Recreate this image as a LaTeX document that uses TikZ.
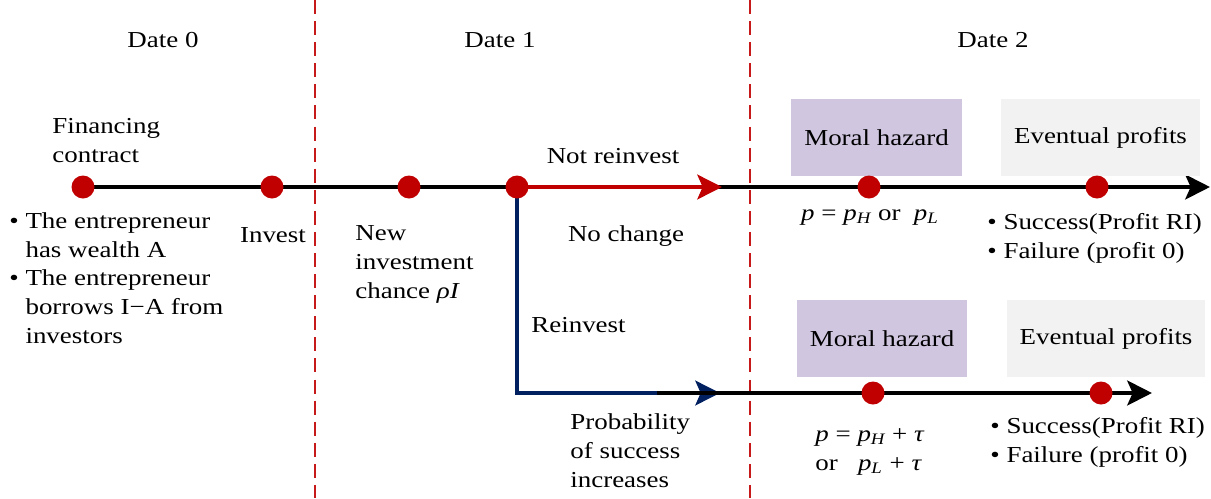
\documentclass[tikz,border=0pt]{standalone}
\usepackage{fontspec}
\setmainfont{Liberation Serif}[FakeStretch=1.18]
\usetikzlibrary{arrows.meta,backgrounds}
\definecolor{dotred}{HTML}{C00000}
\definecolor{navyline}{HTML}{002060}
\definecolor{hazardfill}{HTML}{D0C6DF}
\definecolor{profitfill}{HTML}{F2F2F2}
\newcommand{\vi}[1]{{\itshape #1}}
\tikzset{
	tdot/.style={circle,fill=dotred,inner sep=0pt,minimum size=0.46cm},
	timeline/.style={draw=black,line width=2.8pt},
	keepline/.style={draw=dotred,line width=2.3pt},
	reinvline/.style={draw=navyline,line width=2.3pt},
	datesep/.style={draw=dotred!90!white,line width=1.1pt,dash pattern=on 8pt off 4pt},
	tarrow/.style={-{Stealth[length=14pt,width=14pt,inset=3pt]}},
	hbox/.style={fill=hazardfill,minimum width=3.42cm,minimum height=1.54cm},
	pbox/.style={fill=profitfill,minimum width=3.98cm,minimum height=1.54cm},
	lbl/.style={font=\fontsize{13}{16.5}\selectfont,inner sep=0pt}
}

\begin{document}
\begin{tikzpicture}[x=0.02cm,y=-0.02cm]
	\useasboundingbox (0,0) rectangle (1211,498);
	
	% dates
	\node[lbl,anchor=base] (date0) at (163,47) {Date 0};
	\node[lbl,anchor=base] (date1) at (500,47) {Date 1};
	\node[lbl,anchor=base] (date2) at (993,47) {Date 2};
	
	% boxes above the time points
	\node[hbox,lbl] (hazA) at (876.5,137.5) {Moral hazard};
	\node[pbox,lbl] (profA) at (1100.5,137.5) {Eventual profits};
	\node[hbox,lbl] (hazB) at (882,338.5) {Moral hazard};
	\node[pbox,lbl] (profB) at (1106,338.5) {Eventual profits};
	
	% time points
	\node[tdot] (contract) at (83,187) {};
	\node[tdot] (invest) at (272,187) {};
	\node[tdot] (chance) at (409,187) {};
	\node[tdot] (branch) at (517,187) {};
	\node[tdot] (hazdotA) at (869,187) {};
	\node[tdot] (profdotA) at (1097,187) {};
	\node[tdot] (hazdotB) at (873,393) {};
	\node[tdot] (profdotB) at (1101,393) {};
	\coordinate (endA) at (1210,187);
	\coordinate (keepend) at (722,187);
	\coordinate (reinvend) at (720,393);
	\coordinate (lowstart) at (657,393);
	\coordinate (endB) at (1152,393);
	
	\begin{pgfonlayer}{background}
		\draw[datesep] (315,0) -- (315,498);
		\draw[datesep] (750,0) -- (750,498);
		\draw[timeline,tarrow] (contract.center) -- (endA);
		\draw[keepline,tarrow] (branch.center) -- (keepend);
		\draw[reinvline,tarrow] (branch.center) |- (reinvend);
		\draw[timeline,tarrow] (lowstart) -- (endB);
	\end{pgfonlayer}
	
	% labels (multi-line nodes sit on the baseline of their last line)
	\node[lbl,align=left,anchor=base west] (contracttxt) at (52,162) {Financing\\contract};
	\node[lbl,align=left,anchor=base west] (wealthtxt) at (9,257)
	{\textbullet\ The entrepreneur\\\phantom{\textbullet\ }has wealth A};
	\node[lbl,align=left,anchor=base west] (borrowtxt) at (9,343)
	{\textbullet\ The entrepreneur\\\phantom{\textbullet\ }borrows I−A from\\\phantom{\textbullet\ }investors};
	\node[lbl,anchor=base] (investtxt) at (273,242) {Invest};
	\node[lbl,align=left,anchor=base west] (chancetxt) at (355,298) {New\\investment\\chance \vi{ρI}};
	\node[lbl,anchor=base] (keeptxt) at (613,163) {Not reinvest};
	\node[lbl,anchor=base] (samepx) at (626,241) {No change};
	\node[lbl,anchor=base west] (reinvtxt) at (531,332) {Reinvest};
	\node[lbl,align=left,anchor=base west] (probtxt) at (570,487) {Probability\\of success\\increases};
	\node[lbl,anchor=base] (ptxtA) at (870,220)
	{\vi{p} = \vi{p}\textsubscript{\vi{H}} or\ \ \vi{p}\textsubscript{\vi{L}}};
	\node[lbl,align=left,anchor=base west] (outcomeA) at (987,258)
	{\textbullet\ Success(Profit RI)\\\textbullet\ Failure (profit 0)};
	\node[lbl,align=left,anchor=base west] (ptxtB) at (815,470)
	{\vi{p} = \vi{p}\textsubscript{\vi{H}} + \vi{τ}\\or\ \ \ \vi{p}\textsubscript{\vi{L}} + \vi{τ}};
	\node[lbl,align=left,anchor=base west] (outcomeB) at (990,462)
	{\textbullet\ Success(Profit RI)\\\textbullet\ Failure (profit 0)};
\end{tikzpicture}
\end{document}
